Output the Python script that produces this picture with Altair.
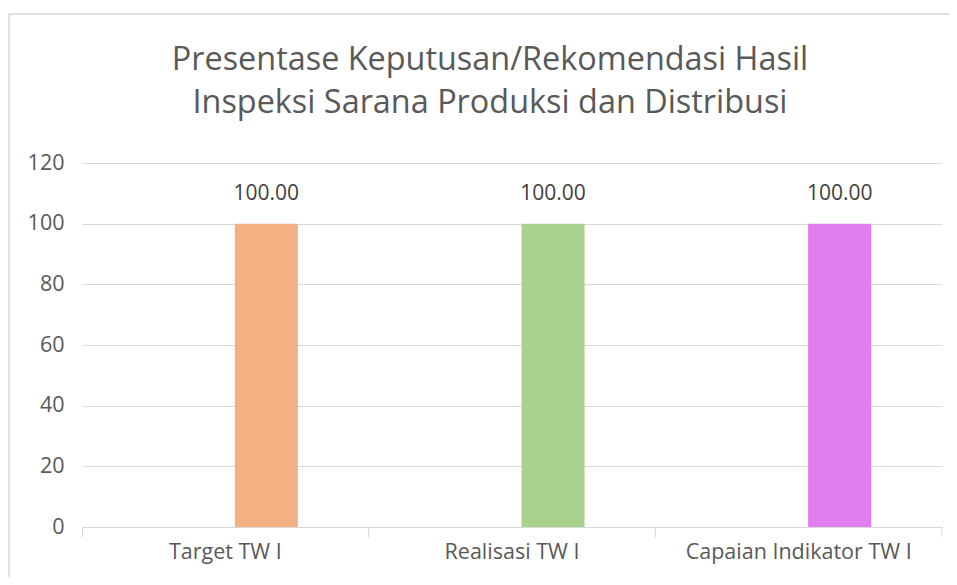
import altair as alt
import pandas as pd

categories = ["Target TW I", "Realisasi TW I", "Capaian Indikator TW I"]
values = [100.00, 100.00, 100.00]
colors = ["#F4B183", "#A9D18E", "#E07EF0"]
y_ticks = [0, 20, 40, 60, 80, 100, 120]
title_lines = ["Presentase Keputusan/Rekomendasi Hasil", "Inspeksi Sarana Produksi dan Distribusi"]

df = pd.DataFrame({"cat": categories, "val": values, "color": colors,
                   "label": [f"{v:.2f}" for v in values]})

FONT = "Open Sans"
W, H = 860, 364
GRID = "#D9D9D9"
TXT = "#595959"

x = alt.X("cat:N", sort=categories, title=None,
          scale=alt.Scale(paddingInner=0, paddingOuter=0),
          axis=alt.Axis(labelAngle=0, bandPosition=0, labelLimit=400,
                        domainColor=GRID, tickColor=GRID, tickSize=10,
                        labelColor=TXT, labelFont=FONT, labelFontSize=21.5,
                        labelPadding=4))
y = alt.Y("val:Q", title=None,
          scale=alt.Scale(domain=[0, 120], nice=False),
          axis=alt.Axis(values=y_ticks, domain=False, ticks=False,
                        gridColor=GRID, labelColor=TXT, labelFont=FONT,
                        labelFontSize=21.5, labelPadding=18))

base = alt.Chart(df)

bars = base.mark_bar(width=alt.RelativeBandSize(0.22), xOffset=41).encode(
    x=x, y=y, color=alt.Color("color:N", scale=None))

end_ticks = base.mark_rule(color=GRID, strokeWidth=1).encode(
    x=alt.X("cat:N", sort=categories, bandPosition=1),
    y=alt.value(H), y2=alt.value(H + 10))

labels = base.mark_text(font=FONT, fontSize=21, color="#404040",
                        baseline="middle", dx=41, dy=-30).encode(
    x=alt.X("cat:N", sort=categories), y="val:Q", text="label:N")

border = alt.Chart(df.head(1)).mark_rect(fill=None, stroke=GRID, strokeWidth=1.5,
                                          clip=False).encode(
    x=alt.value(-73), x2=alt.value(1000), y=alt.value(-149), y2=alt.value(600))

title1 = alt.Chart(df.head(1)).mark_text(font=FONT, fontSize=32.4, color=TXT,
                                          baseline="middle", align="center").encode(
    x=alt.value(408), y=alt.value(-103), text=alt.value(title_lines[0]))
title2 = alt.Chart(df.head(1)).mark_text(font=FONT, fontSize=32.4, color=TXT,
                                          baseline="middle", align="center").encode(
    x=alt.value(408), y=alt.value(-60), text=alt.value(title_lines[1]))

chart = alt.layer(border, bars, end_ticks, labels, title1, title2).properties(
    width=W, height=H,
    padding={"left": 74, "top": 155, "right": 7, "bottom": 50},
    autosize=alt.AutoSizeParams(type="none"),
).configure_view(stroke=None)

chart.save("out.html", embed_options={"renderer": "svg", "actions": False})
